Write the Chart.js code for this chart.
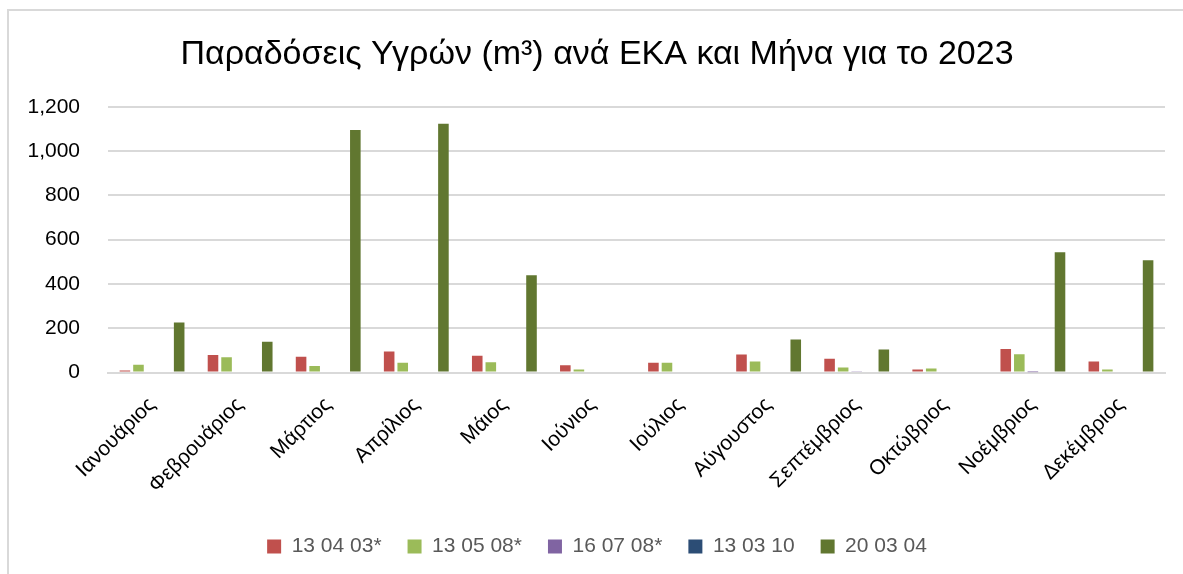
<!DOCTYPE html>
<html>
<head>
<meta charset="utf-8">
<script src="https://cdn.jsdelivr.net/npm/chart.js@4"></script>
<style>
  html, body { margin: 0; padding: 0; background: #fff; }
  #wrap { position: absolute; left: 7px; top: 9px; width: 1176px; height: 565px; border-left: 2px solid #d9d9d9; border-top: 2px solid #d9d9d9; }
  canvas { position: absolute; left: 0; top: 0; }
</style>
</head>
<body>
<div id="wrap"><canvas id="myChart" width="1174" height="563"></canvas></div>
<script>
var months = ["Ιανουάριος","Φεβρουάριος","Μάρτιος","Απρίλιος","Μάιος","Ιούνιος","Ιούλιος","Αύγουστος","Σεπτέμβριος","Οκτώβριος","Νοέμβριος","Δεκέμβριος"];

var data_130403 = [10, 80, 72, 95, 76, 33, 45, 82, 62, 14, 107, 50];
var data_130508 = [35, 69, 30, 45, 47, 14, 45, 50, 23, 18, 83, 14];
var data_160708 = [0, 0, 0, 0, 0, 0, 0, 0, 4, 0, 2, 0];
var data_130310 = [0, 0, 0, 0, 0, 0, 0, 0, 0, 0, 0, 0];
var data_200304 = [226, 139, 1095, 1124, 440, 0, 0, 150, 104, 0, 543, 507];

var seriesNames = ["13 04 03*", "13 05 08*", "16 07 08*", "13 03 10", "20 03 04"];
var seriesColors = ['#C0504D', '#9BBB59', '#8064A2', '#2C4D75', '#617730'];

var allData = [data_130403, data_130508, data_160708, data_130310, data_200304];

const ctx = document.getElementById('myChart').getContext('2d');
const myChart = new Chart(ctx, {
    type: 'bar',
    data: {
        labels: months,
        datasets: allData.map(function(d, i) {
            return {
                label: seriesNames[i],
                data: d,
                backgroundColor: seriesColors[i],
                categoryPercentage: 0.77,
                barPercentage: 0.78
            };
        })
    },
    options: {
        responsive: false,
        animation: false,
        layout: { padding: { left: 20, right: 18, top: 0, bottom: 7 } },
        plugins: {
            title: {
                display: true,
                text: "Παραδόσεις Υγρών (m³) ανά ΕΚΑ και Μήνα για το 2023",
                color: '#000',
                font: { family: 'Liberation Sans', size: 34, weight: 'normal' },
                padding: { top: 23, bottom: 32 }
            },
            legend: {
                position: 'bottom',
                labels: {
                    color: '#595959',
                    font: { family: 'Liberation Sans', size: 21 },
                    boxWidth: 14,
                    boxHeight: 14,
                    padding: 26
                }
            },
            tooltip: { enabled: false }
        },
        scales: {
            x: {
                grid: { display: false },
                border: { display: true, color: '#d9d9d9', width: 2 },
                afterFit: function(scale) {
                    scale.paddingLeft = 0;
                },
                ticks: {
                    color: '#000',
                    font: { family: 'Liberation Sans', size: 21 },
                    maxRotation: 45,
                    minRotation: 45,
                    padding: 12
                }
            },
            y: {
                min: 0,
                max: 1200,
                grid: { color: '#d9d9d9', lineWidth: 2, drawTicks: false },
                border: { display: false },
                afterFit: function(scale) {
                    scale.width = 79;
                },
                ticks: {
                    stepSize: 200,
                    color: '#000',
                    padding: 28,
                    font: { family: 'Liberation Sans', size: 21 }
                }
            }
        }
    }
});
</script>
</body>
</html>
